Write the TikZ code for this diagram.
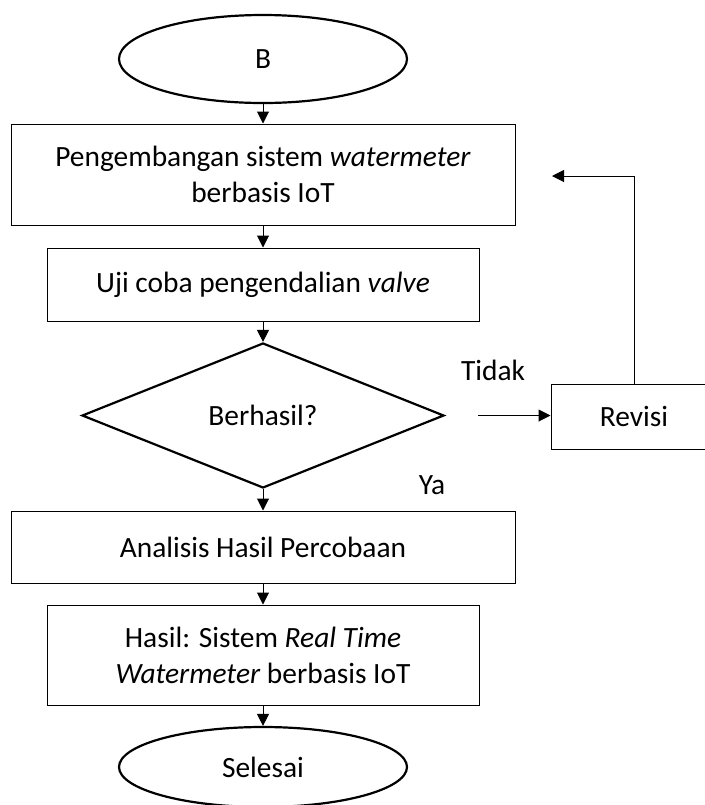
\documentclass[tikz,border=0pt]{standalone}
\usepackage{fontspec}
\setmainfont{Carlito}
\usetikzlibrary{arrows.meta,positioning,calc,shapes.geometric}
\tikzset{
  txt/.style={font=\fontsize{14.7}{18}\selectfont},
  blk/.style={draw,rectangle,line width=0.5pt,align=center,txt,inner sep=2pt},
  termblk/.style={draw,ellipse,line width=1.1pt,txt,minimum width=144pt,minimum height=44pt},
  decblk/.style={draw,diamond,line width=1.1pt,txt,minimum width=181pt,minimum height=72.5pt,inner sep=0pt},
  arr/.style={-{Triangle[length=6pt,width=6pt]},line width=0.5pt},
  lbl/.style={txt,inner sep=0pt}
}

\begin{document}
\begin{tikzpicture}[x=0.5pt,y=-0.5pt]
  \useasboundingbox (0,0) rectangle (705,805);
  \clip (0,0) rectangle (705,805);

  \node[termblk] (start) at (263,59) {B};
  \node[blk, minimum width=252pt, minimum height=50.5pt] (dev) at (263,174.5)
    {Pengembangan sistem \textit{watermeter}\\berbasis IoT};
  \node[blk, minimum width=216pt, minimum height=36.5pt] (test) at (263,284.5)
    {Uji coba pengendalian \textit{valve}};
  \node[decblk] (check) at (263,415.5) {Berhasil?};
  \node[blk, minimum width=100pt, minimum height=32.5pt] (rev) at (651,416.5) {Revisi\hspace*{17pt}};
  \node[blk, minimum width=252pt, minimum height=36pt] (anl) at (263,547)
    {Analisis Hasil Percobaan};
  \node[blk, minimum width=216pt, minimum height=50pt] (res) at (263,655)
    {Hasil: Sistem \textit{Real Time}\\\textit{Watermeter} berbasis IoT};
  \node[termblk, minimum height=40pt] (stop) at (263,767) {Selesai};

  \node[lbl] (no) at (493,370) {Tidak};
  \node[lbl] (yes) at (432,485) {Ya};

  \coordinate (nostart) at ($(check.east)+(33,0)$);
  \coordinate (back) at (552,176);

  \draw[arr] (start)--(dev);
  \draw[arr] (dev)--(test);
  \draw[arr] (test)--(check);
  \draw[arr] (check)--(anl);
  \draw[arr] (anl)--(res);
  \draw[arr] (res)--(stop);
  \draw[arr] (nostart)--(nostart -| rev.west);
  \draw[arr] ([xshift=-8.5pt]rev.north) |- (back);
\end{tikzpicture}
\end{document}
